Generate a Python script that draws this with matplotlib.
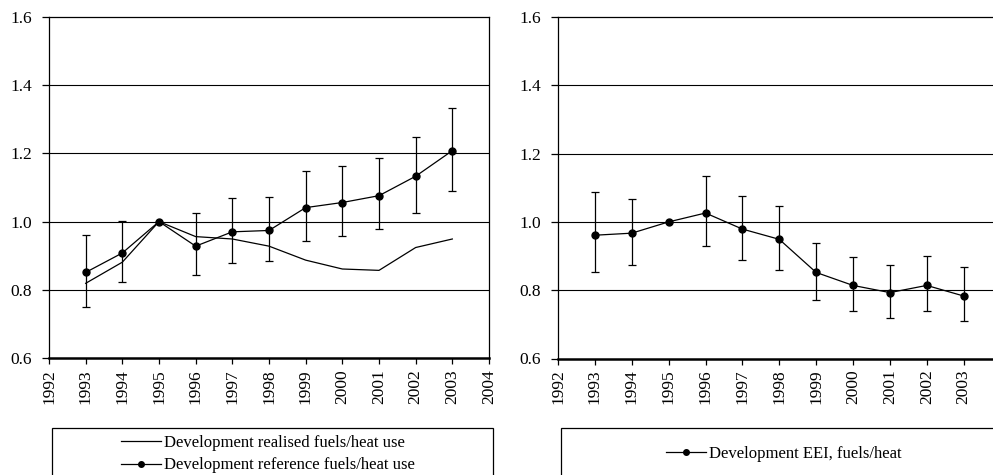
import matplotlib
matplotlib.use("Agg")
import matplotlib.pyplot as plt
from matplotlib.patches import Rectangle
from matplotlib.lines import Line2D
import numpy as np

plt.rcParams["font.family"] = ["Liberation Serif", "DejaVu Serif"]

W, H, DPI = 993, 475, 100

years = [1993, 1994, 1995, 1996, 1997, 1998, 1999, 2000, 2001, 2002, 2003]

# left panel: realised vs. reference fuels/heat use (index, 1995 = 1)
realised = [0.819, 0.881, 1.000, 0.956, 0.949, 0.928, 0.887, 0.861, 0.857, 0.924, 0.949]
reference = [0.851, 0.908, 1.000, 0.928, 0.970, 0.974, 1.041, 1.056, 1.076, 1.133, 1.208]
ref_hi = [0.960, 1.003, 1.000, 1.026, 1.068, 1.073, 1.148, 1.164, 1.186, 1.249, 1.334]
ref_lo = [0.750, 0.824, 1.000, 0.842, 0.880, 0.883, 0.944, 0.958, 0.978, 1.026, 1.091]

# right panel: EEI development, fuels/heat
eei = [0.961, 0.967, 1.000, 1.026, 0.979, 0.949, 0.852, 0.814, 0.793, 0.814, 0.783]
eei_hi = [1.087, 1.067, 1.000, 1.133, 1.076, 1.047, 0.938, 0.897, 0.875, 0.899, 0.869]
eei_lo = [0.852, 0.875, 1.000, 0.928, 0.887, 0.860, 0.772, 0.740, 0.719, 0.738, 0.709]

x_ticks = list(range(1992, 2005))
y_ticks = [0.6, 0.8, 1.0, 1.2, 1.4, 1.6]

fig = plt.figure(figsize=(W / DPI, H / DPI), dpi=DPI)


def px_axes(x0, x1, ytop, ybot):
    return fig.add_axes([x0 / W, 1 - ybot / H, (x1 - x0) / W, (ybot - ytop) / H])


def style_axes(ax):
    ax.set_xlim(1992, 2004)
    ax.set_ylim(0.6, 1.6)
    ax.set_xticks(x_ticks)
    ax.set_xticklabels([str(y) for y in x_ticks], rotation=90, fontsize=12.5)
    ax.set_yticks(y_ticks)
    ax.set_yticklabels([f"{v:.1f}" for v in y_ticks], fontsize=12.5)
    ax.tick_params(axis="x", direction="out", length=4, width=0.9, pad=4)
    ax.tick_params(axis="y", direction="out", length=5, width=0.9, pad=7)
    for v in y_ticks[1:-1]:
        ax.axhline(v, color="black", lw=0.8, zorder=1)
    for side in ("top", "left", "right"):
        ax.spines[side].set_linewidth(0.9)
    ax.spines["bottom"].set_linewidth(1.8)


def err(vals, hi, lo):
    v, h, l = np.array(vals), np.array(hi), np.array(lo)
    return [v - l, h - v]


ax1 = px_axes(49, 489, 17, 358)
style_axes(ax1)
ax1.plot(years, realised, color="black", lw=0.9, zorder=3)
ax1.errorbar(years, reference, yerr=err(reference, ref_hi, ref_lo), color="black",
             lw=0.9, elinewidth=0.9, capsize=3, capthick=0.9, marker="o",
             markersize=5, zorder=4)

ax2 = px_axes(558, 1000.5, 17, 358.5)
style_axes(ax2)
ax2.errorbar(years, eei, yerr=err(eei, eei_hi, eei_lo), color="black",
             lw=0.9, elinewidth=0.9, capsize=3, capthick=0.9, marker="o",
             markersize=5, zorder=4)

# legend boxes below each panel
for x0, x1 in [(52, 493), (561, 1010)]:
    fig.patches.append(Rectangle((x0 / W, -0.1), (x1 - x0) / W, 0.1 + 1 - 428 / H,
                                 transform=fig.transFigure, fill=False,
                                 edgecolor="black", lw=0.9))

h_real = Line2D([], [], color="black", lw=0.9)
h_ref = Line2D([], [], color="black", lw=0.9, marker="o", markersize=4)
fig.legend([h_real, h_ref],
           ["Development realised fuels/heat use", "Development reference fuels/heat use"],
           loc="center", bbox_to_anchor=(268 / W, 1 - 454 / H), frameon=False,
           fontsize=12, handlelength=2.4, handletextpad=0.2, labelspacing=0.4,
           borderpad=0)
fig.legend([h_ref], ["Development EEI, fuels/heat"],
           loc="center", bbox_to_anchor=(784 / W, 1 - 454 / H), frameon=False,
           fontsize=12, handlelength=2.4, handletextpad=0.2, borderpad=0)

fig.savefig("out.png", dpi=DPI, facecolor="white")
